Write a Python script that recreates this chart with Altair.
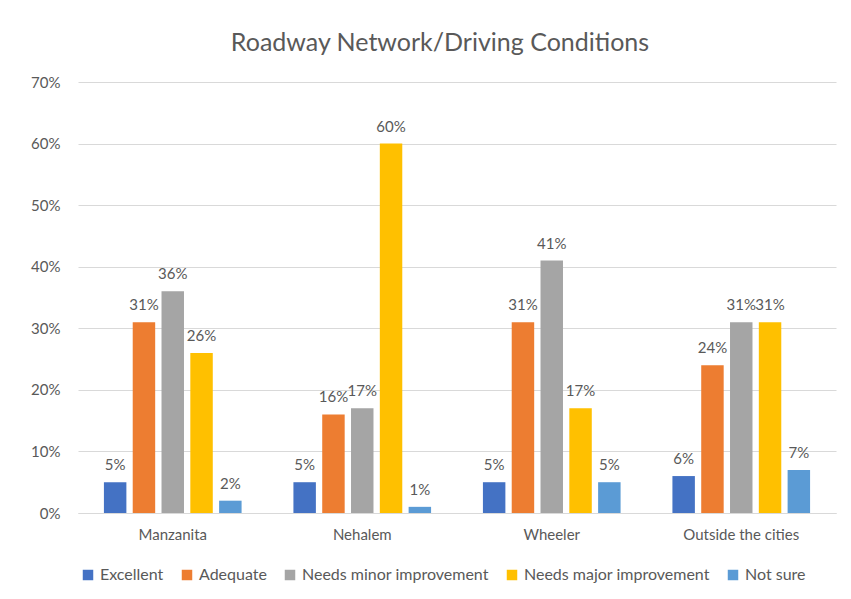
import altair as alt
import pandas as pd

categories = ["Manzanita", "Nehalem", "Wheeler", "Outside the cities"]
series = ["Excellent", "Adequate", "Needs minor improvement", "Needs major improvement", "Not sure"]
colors = ["#4472C4", "#ED7D31", "#A5A5A5", "#FFC000", "#5B9BD5"]
excellent = [5, 5, 5, 6]
adequate = [31, 16, 31, 24]
minor = [36, 17, 41, 31]
major = [26, 60, 17, 31]
not_sure = [2, 1, 5, 7]

values = [excellent, adequate, minor, major, not_sure]
rows = []
for s, vals in zip(series, values):
    for c, v in zip(categories, vals):
        rows.append({"Category": c, "Series": s, "Value": v / 100.0, "Label": f"{v}%"})
df = pd.DataFrame(rows)

FONT = "Lato"
GREY = "#595959"

base = alt.Chart(df).encode(
    x=alt.X("Category:N", sort=categories,
            scale=alt.Scale(paddingInner=0, paddingOuter=0),
            axis=alt.Axis(title=None, labelAngle=0, ticks=False, domainColor="#D9D9D9",
                          labelFontSize=15, labelColor=GREY, labelFont=FONT, labelPadding=14,
                          grid=False)),
    xOffset=alt.XOffset("Series:N", sort=series,
                        scale=alt.Scale(paddingInner=0.22, paddingOuter=0.9)),
)

bars = base.mark_bar().encode(
    y=alt.Y("Value:Q", scale=alt.Scale(domain=[0, 0.7]),
            axis=alt.Axis(title=None, format=".0%", values=[0, 0.1, 0.2, 0.3, 0.4, 0.5, 0.6, 0.7],
                          ticks=False, domain=False, gridColor="#D9D9D9",
                          labelFontSize=15, labelColor=GREY, labelFont=FONT, labelPadding=18)),
    color=alt.Color("Series:N", sort=series,
                    scale=alt.Scale(domain=series, range=colors),
                    legend=alt.Legend(title=None, orient="none", direction="horizontal",
                                      legendX=2, legendY=485,
                                      symbolType="square", symbolSize=110, symbolStrokeWidth=0,
                                      labelFontSize=16, labelColor=GREY, labelFont=FONT,
                                      labelLimit=0, columnPadding=15)),
)

labels = base.mark_text(baseline="alphabetic", dy=-12, fontSize=15, color=GREY, font=FONT).encode(
    y=alt.Y("Value:Q"),
    text="Label:N",
)

chart = alt.layer(bars, labels).properties(
    width=758,
    height=431,
    padding={"left": 22, "top": 23, "right": 5, "bottom": 5},
    title=alt.TitleParams("Roadway Network/Driving Conditions", fontSize=25, font=FONT,
                          color=GREY, fontWeight="normal", offset=19, anchor="middle", dx=-17),
).configure_view(stroke=None)

chart.save("out.html", embed_options={"renderer": "svg", "actions": False})
